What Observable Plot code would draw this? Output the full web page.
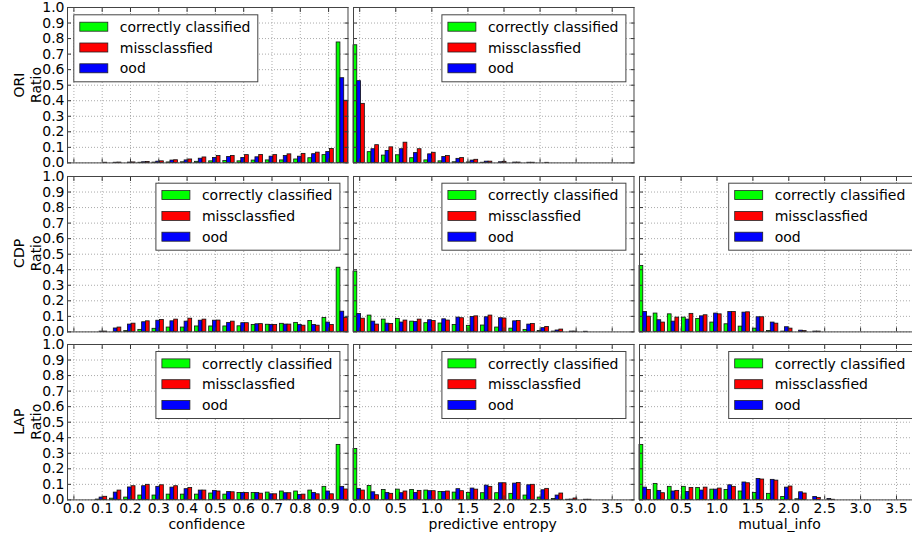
<!DOCTYPE html>
<html>
<head>
<meta charset="utf-8">
<script src="https://cdn.jsdelivr.net/npm/d3@7"></script>
<script src="https://cdn.jsdelivr.net/npm/@observablehq/plot@0.6"></script>
<style>
  html, body { margin: 0; padding: 0; background: #fff; }
  #chart { position: relative; width: 912px; height: 538px; overflow: hidden; background: #fff;
           font-family: "DejaVu Sans", sans-serif; font-size: 14px; color: #000; }
</style>
</head>
<body>
<div id="chart"></div>
<script>
// ---------------- data ----------------
const seriesNames = ["correctly classified", "missclassfied", "ood"];
const rowNames = ["ORI", "CDP", "LAP"];
const columnNames = ["confidence", "predictive entropy", "mutual_info"];

const yTicks = [0.0, 0.1, 0.2, 0.3, 0.4, 0.5, 0.6, 0.7, 0.8, 0.9, 1.0];
const confTicks = [0.0, 0.1, 0.2, 0.3, 0.4, 0.5, 0.6, 0.7, 0.8, 0.9];
const valueTicks = [0.0, 0.5, 1.0, 1.5, 2.0, 2.5, 3.0, 3.5];

// histogram bin edges (20 bins per column)
const confEdges = [-0.0276, 0.0225, 0.0725, 0.1226, 0.1726, 0.2227, 0.2728, 0.3228, 0.3729, 0.4229,
  0.4730, 0.5231, 0.5731, 0.6232, 0.6732, 0.7233, 0.7734, 0.8234, 0.8735, 0.9235, 0.9736];
const entropyEdges = [-0.1055, 0.0909, 0.2872, 0.4836, 0.6799, 0.8763, 1.0726, 1.2690, 1.4653, 1.6617,
  1.8580, 2.0544, 2.2507, 2.4471, 2.6434, 2.8398, 3.0361, 3.2325, 3.4288, 3.6252, 3.8215];
const mutualEdges = [-0.0991, 0.0982, 0.2955, 0.4928, 0.6901, 0.8875, 1.0848, 1.2821, 1.4794, 1.6767,
  1.8740, 2.0713, 2.2686, 2.4659, 2.6632, 2.8606, 3.0579, 3.2552, 3.4525, 3.6498, 3.8471];

// ORI
const ori_conf_correct = [0,0,0,0,0,0.001,0.002,0.003,0.004,0.007,0.010,0.012,0.010,0.015,0.016,0.016,0.022,0.030,0.050,0.775];
const ori_conf_miss    = [0,0,0.001,0.002,0.003,0.006,0.010,0.017,0.022,0.035,0.044,0.045,0.050,0.051,0.050,0.055,0.058,0.066,0.090,0.400];
const ori_conf_ood     = [0,0,0,0.001,0.002,0.004,0.008,0.015,0.016,0.027,0.032,0.038,0.032,0.036,0.040,0.044,0.040,0.056,0.070,0.545];
const ori_ent_correct  = [0.757,0.069,0.047,0.049,0.030,0.016,0.010,0.004,0.003,0.001,0,0,0,0,0,0,0,0,0,0];
const ori_ent_miss     = [0.380,0.114,0.100,0.130,0.088,0.065,0.044,0.031,0.020,0.008,0.007,0.002,0.001,0.0005,0,0,0,0,0,0];
const ori_ent_ood      = [0.526,0.088,0.077,0.088,0.063,0.055,0.038,0.026,0.015,0.008,0.004,0.002,0.001,0,0,0,0,0,0,0];
// CDP
const cdp_conf_correct = [0,0,0,0,0.005,0.013,0.020,0.028,0.028,0.035,0.035,0.035,0.036,0.045,0.046,0.052,0.058,0.070,0.090,0.413];
const cdp_conf_miss    = [0,0,0.002,0.028,0.053,0.068,0.077,0.079,0.085,0.079,0.073,0.066,0.056,0.050,0.045,0.047,0.040,0.040,0.045,0.090];
const cdp_conf_ood     = [0,0,0.002,0.022,0.047,0.062,0.072,0.068,0.066,0.072,0.072,0.058,0.056,0.049,0.045,0.047,0.045,0.045,0.060,0.130];
const cdp_ent_correct  = [0.388,0.105,0.079,0.083,0.066,0.056,0.054,0.045,0.039,0.041,0.028,0.021,0.013,0.006,0.002,0,0,0,0,0];
const cdp_ent_miss     = [0.085,0.047,0.051,0.073,0.079,0.070,0.073,0.088,0.100,0.105,0.086,0.070,0.051,0.032,0.015,0.002,0,0,0,0];
const cdp_ent_ood      = [0.115,0.066,0.053,0.060,0.064,0.075,0.081,0.092,0.096,0.094,0.088,0.068,0.047,0.024,0.009,0.002,0.001,0,0,0];
const cdp_mi_correct   = [0.424,0.118,0.113,0.092,0.083,0.060,0.049,0.034,0.021,0.006,0.002,0,0,0,0,0,0,0,0,0];
const cdp_mi_miss      = [0.098,0.060,0.092,0.116,0.107,0.113,0.128,0.126,0.094,0.053,0.021,0.005,0.002,0,0,0,0,0,0,0];
const cdp_mi_ood       = [0.128,0.075,0.066,0.079,0.100,0.118,0.128,0.124,0.094,0.060,0.030,0.008,0.002,0,0,0,0,0,0,0];
// LAP
const lap_conf_correct = [0,0,0.002,0.008,0.015,0.028,0.028,0.034,0.034,0.034,0.041,0.034,0.045,0.045,0.047,0.054,0.054,0.060,0.084,0.354];
const lap_conf_miss    = [0,0,0.020,0.060,0.088,0.097,0.094,0.088,0.077,0.060,0.054,0.049,0.045,0.040,0.036,0.043,0.034,0.036,0.036,0.067];
const lap_conf_ood     = [0,0,0.015,0.047,0.080,0.088,0.084,0.079,0.069,0.060,0.058,0.051,0.045,0.045,0.036,0.043,0.032,0.045,0.054,0.084];
const lap_ent_correct  = [0.328,0.090,0.064,0.066,0.064,0.060,0.051,0.047,0.045,0.043,0.043,0.039,0.028,0.015,0.006,0.001,0,0,0,0];
const lap_ent_miss     = [0.060,0.030,0.039,0.054,0.058,0.056,0.054,0.056,0.066,0.084,0.107,0.109,0.097,0.071,0.041,0.009,0.001,0,0,0];
const lap_ent_ood      = [0.071,0.049,0.045,0.043,0.045,0.056,0.051,0.069,0.073,0.092,0.107,0.105,0.094,0.062,0.028,0.002,0.001,0,0,0];
const lap_mi_correct   = [0.354,0.103,0.084,0.084,0.077,0.066,0.064,0.054,0.045,0.039,0.019,0.004,0,0,0,0,0,0,0,0];
const lap_mi_miss      = [0.064,0.043,0.058,0.077,0.079,0.073,0.084,0.107,0.131,0.124,0.086,0.041,0.013,0.001,0,0,0,0,0,0];
const lap_mi_ood       = [0.079,0.058,0.054,0.051,0.060,0.066,0.094,0.112,0.135,0.129,0.079,0.049,0.019,0.006,0,0,0,0,0,0];

// ---------------- layout & style ----------------
const colors = {correct: "#00ff00", miss: "#ff0000", ood: "#0000ff"};
const colLeft = [66.5, 352.5, 639.3];
const rowTop = [7.3, 175.7, 344.0];
const panelW = 280.5, panelH = 155.4;
const columns = [
  {edges: confEdges, ticks: confTicks},
  {edges: entropyEdges, ticks: valueTicks},
  {edges: mutualEdges, ticks: valueTicks}
];
const panels = [
  {row: 0, col: 0, correct: ori_conf_correct, miss: ori_conf_miss, ood: ori_conf_ood, legend: "left"},
  {row: 0, col: 1, correct: ori_ent_correct, miss: ori_ent_miss, ood: ori_ent_ood, legend: "right"},
  {row: 1, col: 0, correct: cdp_conf_correct, miss: cdp_conf_miss, ood: cdp_conf_ood, legend: "right"},
  {row: 1, col: 1, correct: cdp_ent_correct, miss: cdp_ent_miss, ood: cdp_ent_ood, legend: "right"},
  {row: 1, col: 2, correct: cdp_mi_correct, miss: cdp_mi_miss, ood: cdp_mi_ood, legend: "right"},
  {row: 2, col: 0, correct: lap_conf_correct, miss: lap_conf_miss, ood: lap_conf_ood, legend: "right"},
  {row: 2, col: 1, correct: lap_ent_correct, miss: lap_ent_miss, ood: lap_ent_ood, legend: "right"},
  {row: 2, col: 2, correct: lap_mi_correct, miss: lap_mi_miss, ood: lap_mi_ood, legend: "right"}
];

const chart = document.getElementById("chart");
const fmt = d => d.toFixed(1);
const blank = () => "";

// bars of one series: matplotlib side-by-side hist layout (rwidth 0.8, 3 datasets)
function barsOf(values, edges, slot) {
  return values.map((v, k) => {
    const a = edges[k], w = edges[k + 1] - edges[k];
    const x1 = a + w * (0.1 + 0.8 * slot / 3);
    return {x1, x2: x1 + w * 0.8 / 3, v};
  });
}

for (const p of panels) {
  const {edges, ticks} = columns[p.col];
  const n = edges.length - 1;
  const w0 = edges[1] - edges[0], wN = edges[n] - edges[n - 1];
  const domain = [edges[0] + 0.1 * w0, edges[n] - 0.1 * wN];
  const showX = p.row === 2, showY = p.col === 0;
  const barOpts = (fill) => ({x1: "x1", x2: "x2", y1: 0, y2: "v", fill, stroke: "#111", strokeWidth: 0.8});
  const svg = Plot.plot({
    width: panelW, height: panelH, margin: 0,
    x: {domain},
    y: {domain: [0, 1]},
    style: {overflow: "visible", background: "transparent", fontFamily: "DejaVu Sans, sans-serif", fontSize: "14px", color: "#000"},
    marks: [
      Plot.gridX(ticks, {stroke: "#aaa", strokeOpacity: 1, strokeWidth: 1, strokeDasharray: "1,2"}),
      Plot.gridY(yTicks, {stroke: "#aaa", strokeOpacity: 1, strokeWidth: 1, strokeDasharray: "1,2"}),
      Plot.rect(barsOf(p.correct, edges, 0), barOpts(colors.correct)),
      Plot.rect(barsOf(p.ood, edges, 1), barOpts(colors.ood)),
      Plot.rect(barsOf(p.miss, edges, 2), barOpts(colors.miss)),
      Plot.axisX(ticks, {anchor: "bottom", tickSize: -4, tickPadding: 7.5, stroke: "#333", tickFormat: showX ? fmt : blank, label: null}),
      Plot.axisX(ticks, {anchor: "top", tickSize: -4, stroke: "#333", tickFormat: blank, label: null}),
      Plot.axisY(yTicks, {anchor: "left", tickSize: -4, tickPadding: 7, stroke: "#333", tickFormat: showY ? fmt : blank, label: null}),
      Plot.axisY(yTicks, {anchor: "right", tickSize: -4, stroke: "#333", tickFormat: blank, label: null}),
      Plot.frame({stroke: "#444", strokeWidth: 1})
    ]
  });
  svg.style.position = "absolute";
  svg.style.left = colLeft[p.col] + "px";
  svg.style.top = rowTop[p.row] + "px";
  chart.appendChild(svg);
}

// ---------------- overlay: axis titles and legends ----------------
const overlay = d3.create("svg")
  .attr("width", 912).attr("height", 538)
  .style("position", "absolute").style("left", "0px").style("top", "0px")
  .style("font-family", "DejaVu Sans, sans-serif").style("font-size", "14px");

rowNames.forEach((name, r) => {
  const cy = rowTop[r] + panelH / 2;
  overlay.append("text").attr("text-anchor", "middle")
    .attr("transform", `translate(24,${cy}) rotate(-90)`).text(name);
  overlay.append("text").attr("text-anchor", "middle")
    .attr("transform", `translate(41,${cy}) rotate(-90)`).text("Ratio");
});

columnNames.forEach((name, c) => {
  overlay.append("text").attr("text-anchor", "middle")
    .attr("x", colLeft[c] + panelW / 2).attr("y", 529).text(name);
});

const legendItems = [
  {label: seriesNames[0], color: colors.correct},
  {label: seriesNames[1], color: colors.miss},
  {label: seriesNames[2], color: colors.ood}
];
const legW = 185, legH = 68;
for (const p of panels) {
  const lx = p.legend === "left" ? colLeft[p.col] + 6.8 : colLeft[p.col] + panelW - 6.6 - legW;
  const ly = rowTop[p.row] + 7;
  const g = overlay.append("g").attr("transform", `translate(${lx},${ly})`);
  g.append("rect").attr("x", 0.5).attr("y", 0.5).attr("width", legW - 1).attr("height", legH - 1)
    .attr("fill", "#fff").attr("stroke", "#444").attr("stroke-width", 1);
  legendItems.forEach((it, i) => {
    g.append("rect").attr("x", 6.5).attr("y", 7.9 + 20.8 * i).attr("width", 28).attr("height", 9)
      .attr("fill", it.color).attr("stroke", "#222").attr("stroke-width", 0.8);
    g.append("text").attr("x", 46.5).attr("y", 17.6 + 20.8 * i).text(it.label);
  });
}

chart.appendChild(overlay.node());
</script>
</body>
</html>
